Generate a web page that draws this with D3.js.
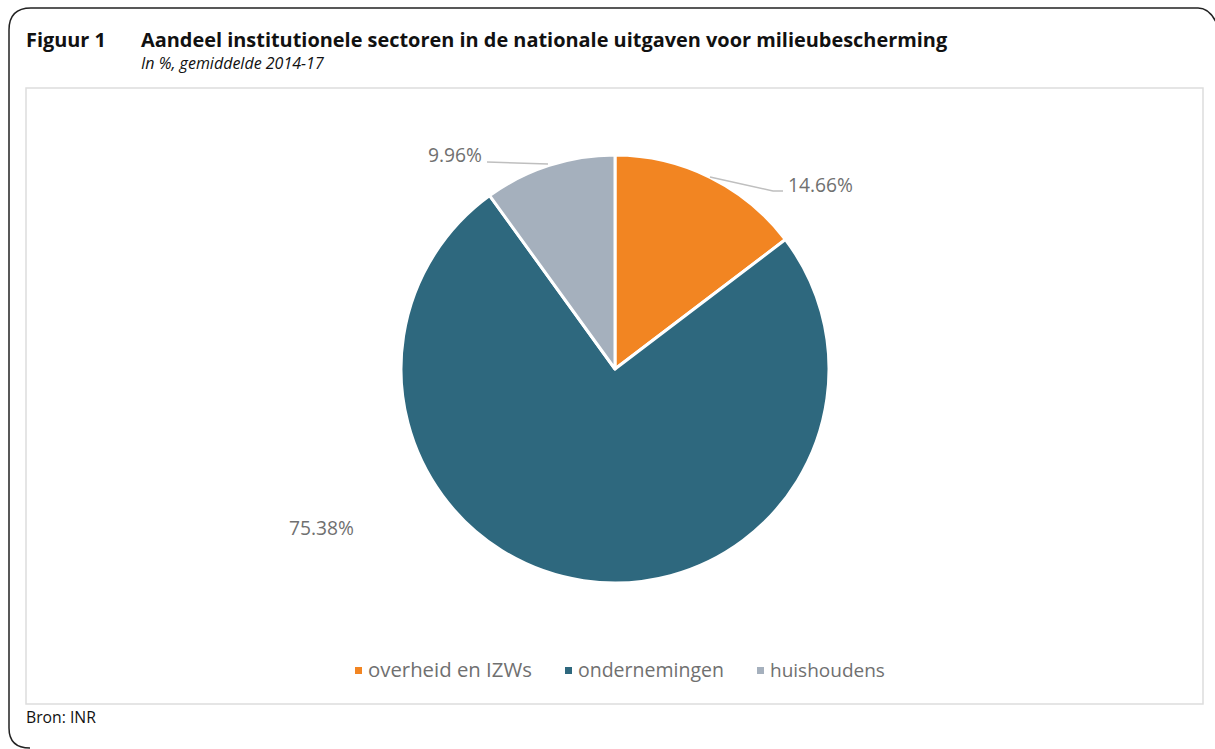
<!DOCTYPE html>
<html><head><meta charset="utf-8">
<script src="https://cdn.jsdelivr.net/npm/d3@7"></script>
<style>body{margin:0;background:#fff}</style>
</head><body>
<svg id="c" width="1215" height="749"></svg>
<script>
const categories = ["overheid en IZWs", "ondernemingen", "huishoudens"];
const values = [14.66, 75.38, 9.96];
const labels = ["14.66%", "75.38%", "9.96%"];
const colors = ["#F28522", "#2E687E", "#A5B0BD"];

const svg = d3.select("#c");
function fit(sel, w) {
  const fs = +sel.attr("font-size");
  const len = sel.node().getComputedTextLength();
  sel.attr("font-size", fs * w / len);
  return sel;
}
// outer frame
svg.append("path")
  .attr("d", "M30,748 Q9,748 9,728 L9,30 Q9,8 31,8 L1198,8 Q1209,8 1216,22")
  .attr("fill","none").attr("stroke","#222").attr("stroke-width",1.5);
const tf = "'Open Sans', 'DejaVu Sans', sans-serif";
fit(svg.append("text").attr("x",26).attr("y",47).attr("font-family",tf).attr("font-weight","bold").attr("font-size",18).attr("fill","#111").text("Figuur 1"), 80);
fit(svg.append("text").attr("x",141).attr("y",47).attr("font-family",tf).attr("font-weight","bold").attr("font-size",18).attr("fill","#111").text("Aandeel institutionele sectoren in de nationale uitgaven voor milieubescherming"), 807);
fit(svg.append("text").attr("x",141).attr("y",69).attr("font-family",tf).attr("font-style","italic").attr("font-size",13).attr("fill","#111").text("In %, gemiddelde 2014-17"), 183);
svg.append("rect").attr("x",26).attr("y",88).attr("width",1177).attr("height",616).attr("fill","#fff").attr("stroke","#ddd").attr("stroke-width",1.5);
fit(svg.append("text").attr("x",26).attr("y",723).attr("font-family",tf).attr("font-size",13).attr("fill","#111").text("Bron: INR"), 70);

const cx = 615, cy = 369, r = 214;
const pie = d3.pie().sort(null).value(d => d)(values);
const arc = d3.arc().innerRadius(0).outerRadius(r);
const g = svg.append("g").attr("transform", `translate(${cx},${cy})`);
g.selectAll("path").data(pie).join("path")
  .attr("d", arc).attr("fill", (d,i) => colors[i])
  .attr("stroke","#fff").attr("stroke-width",3).attr("stroke-linejoin","round");

const lf = "'Open Sans', 'DejaVu Sans', sans-serif";
const labelPos = [
  {x: 173, y: -184, w: 65, anchor: "start", line: [[95,-192],[158,-178],[168,-178]]},
  {x: -326, y: 159, w: 65, anchor: "start", line: null},
  {x: -133, y: -214, w: 54, anchor: "end", line: [[-67,-205],[-128,-207]]}
];
pie.forEach((d,i) => {
  const p = labelPos[i];
  if (p.line) g.append("path").attr("d", d3.line()(p.line)).attr("fill","none").attr("stroke","#bfbfbf").attr("stroke-width",1.5);
  fit(g.append("text").attr("x",p.x).attr("y",p.y).attr("dy","0.35em").attr("text-anchor",p.anchor)
    .attr("font-family",lf).attr("font-size",19).attr("fill","#707070").text(labels[i]), p.w);
});

// legend
const legendW = [164, 146, 115];
const legend = svg.append("g");
const gap = 33, sw = 13;
const total = d3.sum(legendW.map(w => w + sw)) + gap*(categories.length-1);
let x = cx - total/2 + 5;
categories.forEach((c,i) => {
  legend.append("rect").attr("x",x).attr("y",667).attr("width",7).attr("height",7).attr("fill",colors[i]);
  fit(legend.append("text").attr("x",x+sw).attr("y",670).attr("dy","0.35em").attr("font-family",lf).attr("font-size",19).attr("fill","#707070").text(c), legendW[i]);
  x += sw + legendW[i] + gap;
});
</script>
</body></html>
